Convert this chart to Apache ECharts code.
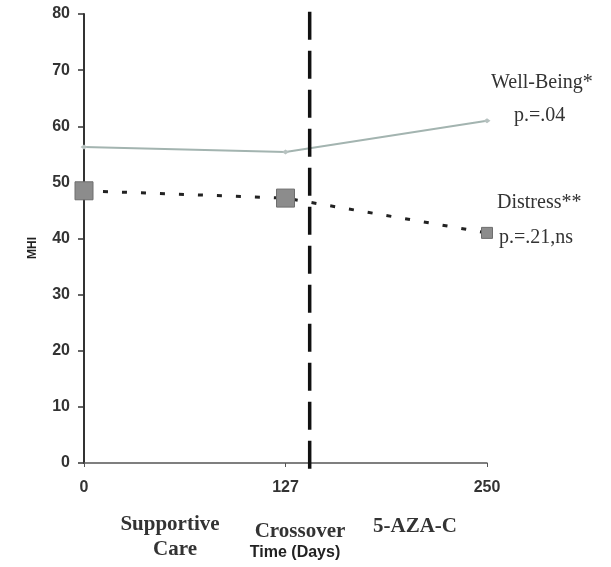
<!DOCTYPE html>
<html><head><meta charset="utf-8">
<script src="https://cdn.jsdelivr.net/npm/echarts@6/dist/echarts.min.js"></script>
<style>html,body{margin:0;padding:0;background:#fff}#c{width:611px;height:567px}</style>
</head><body><div id="c"></div>
<script>
// Data
const tickLabels = ['0', '127', '250'];
const timePoints = [0, 1, 2]; // equally spaced positions of the three time labels
const wellBeing = [56.3, 55.4, 61.0];
const distress = [48.5, 47.2, 41.0];
const crossoverPos = 1.12;
const crossoverSpan = [80.4, -1.6];

const chart = echarts.init(document.getElementById('c'));
const serif = '"Liberation Serif", "DejaVu Serif", serif';
const sans = '"Liberation Sans", Arial, sans-serif';
function txt(text, x, y, font, fill, align) {
  return {type: 'text', x: x, y: y, style: {text: text, font: font, fill: fill || '#333', align: align || 'left', verticalAlign: 'middle'}};
}
chart.setOption({
  animation: false,
  grid: {left: 84, right: 124, top: 14, bottom: 104},
  xAxis: {
    type: 'value', min: 0, max: 2, interval: 1,
    axisLine: {lineStyle: {color: '#555', width: 1.5}},
    axisTick: {show: true, length: 4, lineStyle: {color: '#555'}},
    splitLine: {show: false},
    axisLabel: {formatter: v => tickLabels[v] ?? '', margin: 17, fontFamily: sans, fontWeight: 'bold', fontSize: 16, color: '#333'}
  },
  yAxis: {
    type: 'value', min: 0, max: 80, interval: 10,
    axisLine: {show: true, lineStyle: {color: '#333', width: 2}},
    axisTick: {show: true, length: 6, lineStyle: {color: '#333', width: 1.5}},
    splitLine: {show: false},
    axisLabel: {margin: 14, fontFamily: sans, fontWeight: 'bold', fontSize: 16, color: '#333'}
  },
  series: [
    {
      name: 'Well-Being', type: 'line',
      data: timePoints.map((t, i) => [t, wellBeing[i]]),
      lineStyle: {color: '#a3b4b0', width: 2},
      itemStyle: {color: '#b7c2c0'},
      symbol: 'diamond', symbolSize: [7, 5],
      showAllSymbol: true
    },
    {
      name: 'Distress', type: 'line',
      data: timePoints.map((t, i) => ({value: [t, distress[i]], symbolSize: i === 2 ? 11 : 18})),
      lineStyle: {color: '#222', width: 3, type: [5, 14]},
      itemStyle: {color: '#8c8c8c', borderColor: '#6e6e6e', borderWidth: 1},
      symbol: 'rect'
    },
    {
      name: 'Crossover', type: 'line', clip: false, silent: true,
      data: crossoverSpan.map(v => [crossoverPos, v]),
      symbol: 'none',
      lineStyle: {color: '#111', width: 3.5, type: [28, 11]}
    }
  ],
  graphic: [
    {type: 'text', x: 33, y: 248, rotation: Math.PI / 2, style: {text: 'MHI', font: 'bold 12px ' + sans, fill: '#222', align: 'center', verticalAlign: 'middle'}},
    txt('Well-Being*', 491, 83, '20px ' + serif),
    txt('p.=.04', 514, 116, '20px ' + serif),
    txt('Distress**', 497, 203, '20px ' + serif),
    txt('p.=.21,ns', 499, 238, '20px ' + serif),
    txt('Supportive', 170, 525, 'bold 21px ' + serif, '#333', 'center'),
    txt('Care', 175, 550, 'bold 21px ' + serif, '#333', 'center'),
    txt('Crossover', 300, 532, 'bold 21px ' + serif, '#333', 'center'),
    txt('Time (Days)', 295, 553, 'bold 16px ' + sans, '#222', 'center'),
    txt('5-AZA-C', 415, 527, 'bold 21px ' + serif, '#333', 'center')
  ]
});
</script></body></html>
